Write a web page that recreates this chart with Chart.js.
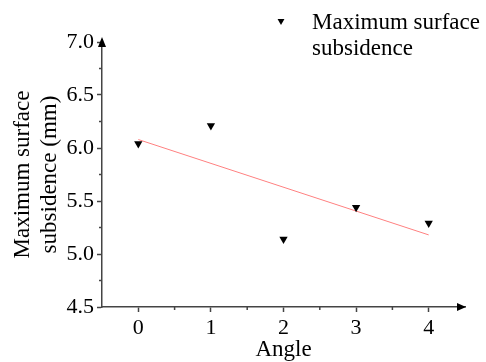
<!DOCTYPE html>
<html>
<head>
<meta charset="utf-8">
<script src="https://cdn.jsdelivr.net/npm/chart.js@4.4.1/dist/chart.umd.min.js"></script>
<style>
  html, body { margin: 0; padding: 0; background: #fff; }
  #wrap { width: 486px; height: 362px; }
</style>
</head>
<body>
<div id="wrap"><canvas id="chart" width="486" height="362"></canvas></div>
<script>
// data
const angles = [0, 1, 2, 3, 4];
const subsidence = [6.04, 6.21, 5.14, 5.44, 5.29];
const fitAngles = [0, 4];
const fitValues = [6.08, 5.18];

const xTicks = [0, 1, 2, 3, 4];
const xMinorTicks = [0.5, 1.5, 2.5, 3.5];
const yMinorTicks = [4.75, 5.25, 5.75, 6.25, 6.75];
const legendLines = ['Maximum surface', 'subsidence'];
const yTitle = ['Maximum surface', 'subsidence (mm)'];

const axisColor = '#444';
const serif = 'Liberation Serif';

Chart.defaults.font.family = serif;
Chart.defaults.font.size = 22;
Chart.defaults.color = '#000';

// minor ticks, arrow heads and the legend
const decor = {
  id: 'decor',
  afterDraw(chart) {
    const { ctx, chartArea, scales } = chart;
    const { left, right, top, bottom } = chartArea;
    ctx.save();
    ctx.strokeStyle = axisColor;
    ctx.fillStyle = '#000';
    ctx.lineWidth = 1.5;

    ctx.beginPath();
    xMinorTicks.forEach(v => {
      const px = scales.x.getPixelForValue(v);
      ctx.moveTo(px, bottom);
      ctx.lineTo(px, bottom + 3);
    });
    yMinorTicks.forEach(v => {
      const py = scales.y.getPixelForValue(v);
      ctx.moveTo(left - 3, py);
      ctx.lineTo(left, py);
    });
    ctx.moveTo(left, top);
    ctx.lineTo(left, top - 3);
    ctx.stroke();

    // y arrow
    ctx.beginPath();
    ctx.moveTo(left, top - 5);
    ctx.lineTo(left - 4, top + 5);
    ctx.lineTo(left + 4, top + 5);
    ctx.closePath();
    ctx.fill();

    // x arrow
    ctx.beginPath();
    ctx.moveTo(right + 1, bottom);
    ctx.lineTo(right - 8, bottom - 4);
    ctx.lineTo(right - 8, bottom + 4);
    ctx.closePath();
    ctx.fill();

    // legend
    const mx = 281, my = 21, r = 4;
    ctx.beginPath();
    ctx.moveTo(mx, my + r);
    ctx.lineTo(mx - r * 0.866, my - r / 2);
    ctx.lineTo(mx + r * 0.866, my - r / 2);
    ctx.closePath();
    ctx.fill();

    ctx.font = '23px ' + serif;
    ctx.textAlign = 'left';
    ctx.textBaseline = 'alphabetic';
    legendLines.forEach((t, i) => ctx.fillText(t, 312, 29 + i * 26));
    ctx.restore();
  }
};

new Chart(document.getElementById('chart'), {
  type: 'scatter',
  data: {
    datasets: [
      {
        label: legendLines.join(' '),
        data: angles.map((a, i) => ({ x: a, y: subsidence[i] })),
        pointStyle: 'triangle',
        rotation: 180,
        radius: 4.8,
        backgroundColor: '#000',
        borderColor: '#000',
        borderWidth: 0
      },
      {
        type: 'line',
        label: 'fit',
        data: fitAngles.map((a, i) => ({ x: a, y: fitValues[i] })),
        borderColor: '#ff8080',
        borderWidth: 1,
        pointRadius: 0,
        fill: false
      }
    ]
  },
  options: {
    responsive: false,
    devicePixelRatio: 1,
    animation: false,
    layout: { padding: { top: 42, right: 21, left: 0, bottom: 0 } },
    plugins: {
      legend: { display: false },
      tooltip: { enabled: false }
    },
    scales: {
      x: {
        type: 'linear',
        min: -0.5,
        max: 4.5,
        afterBuildTicks: s => { s.ticks = xTicks.map(v => ({ value: v })); },
        afterFit: s => { s.height = 55; },
        grid: { drawOnChartArea: false, tickLength: 5, tickColor: axisColor, tickWidth: 1.5 },
        border: { color: axisColor, width: 1.5 },
        ticks: { padding: 3, color: '#000' },
        title: { display: true, text: 'Angle', font: { size: 23 }, padding: { top: 0, bottom: -2 } }
      },
      y: {
        min: 4.5,
        max: 7.0,
        afterFit: s => { s.width = 102; },
        grid: { drawOnChartArea: false, tickLength: 5, tickColor: axisColor, tickWidth: 1.5 },
        border: { color: axisColor, width: 1.5 },
        ticks: { stepSize: 0.5, padding: 3, color: '#000', callback: v => v.toFixed(1) },
        title: { display: true, text: yTitle, font: { size: 23 }, padding: { top: 9, bottom: 0 } }
      }
    }
  },
  plugins: [decor]
});
</script>
</body>
</html>
